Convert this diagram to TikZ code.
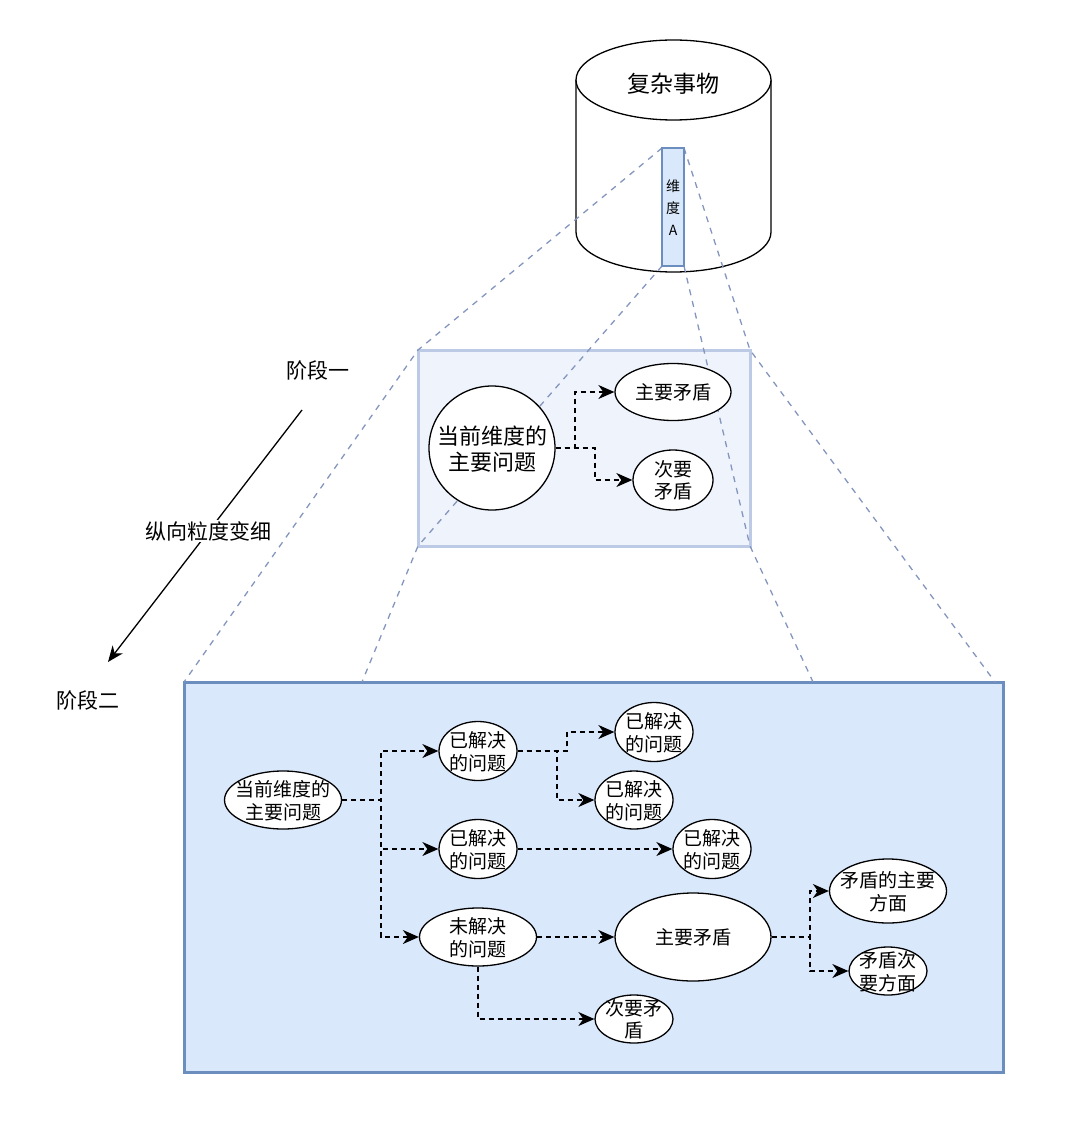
\documentclass[tikz,border=0pt]{standalone}
\usepackage{fontspec}
\setmainfont{Noto Sans CJK SC}
\usetikzlibrary{shapes.geometric}
\usetikzlibrary{arrows.meta}

\definecolor{lightblue}{HTML}{DAE8FC}
\definecolor{paleblue}{HTML}{EEF3FC}
\definecolor{frameblue}{HTML}{6C8EBF}
\definecolor{paleframe}{HTML}{BCCAE6}
\definecolor{dimgray}{HTML}{8496BE}

% text of zero size, so the ellipse keeps its given size
\newcommand{\ctext}[1]{\raisebox{-0.16em}[0pt][0pt]{\vbox to 0pt{\vss\hbox to 0pt{\hss\begin{tabular}{@{}c@{}}#1\end{tabular}\hss}\vss}}}

\tikzset{
  bubble/.style={ellipse, draw, line width=1.3pt, fill=white, inner sep=0pt, font=\fontsize{19}{22}\selectfont},
  bigbubble/.style={bubble, font=\fontsize{22}{25}\selectfont},
  flow/.style={line width=1.3pt, dash pattern=on 5pt off 4pt, -{Stealth[length=16pt,width=14pt,inset=5pt]}},
  dimline/.style={draw=dimgray, line width=1.3pt, dash pattern=on 6pt off 6pt},
  stagebox/.style={line width=3pt, inner sep=0pt, outer sep=0pt},
  barbox/.style={draw=frameblue, fill=lightblue, line width=1.2pt, minimum width=22, minimum height=118, inner sep=0pt, outer sep=0pt, font=\fontsize{14}{22}\selectfont},
  phasetext/.style={font=\fontsize{21}{25}\selectfont},
}

\begin{document}
\begin{tikzpicture}[x=1pt, y=-1pt]
    \useasboundingbox (0,0) rectangle (1080,1123);

    % cylinder
    \draw[line width=1.3pt, fill=white] (576,80) -- (576,232) arc[start angle=180, end angle=0, x radius=97.5, y radius=40] -- (771,80);
    \draw[line width=1.3pt, fill=white] (673.5,80) ellipse[x radius=97.5, y radius=40];
    \node[font=\fontsize{23}{27}\selectfont] (thing) at (673,84) {复杂事物};

    % stages
    \node[stagebox, draw=paleframe, fill=paleblue, minimum width=332, minimum height=196] (s1) at (584,448) {};
    \node[stagebox, draw=frameblue, fill=lightblue, minimum width=819, minimum height=390] (s2) at (593.5,877) {};

    \coordinate (d1) at (362,682);
    \coordinate (d2) at (813,682);
    \coordinate (d3) at (995,682);
    \node[barbox] (dimA) at (673,207) {};
    \draw[dimline] (dimA.north west) -- (s1.north west) -- (s2.north west);
    \draw[dimline] (dimA.north east) -- (s1.north east) -- (d3);
    \draw[dimline] (dimA.south west) -- (s1.south west) -- (d1);
    \draw[dimline] (dimA.south east) -- (s1.south east) -- (d2);
    \node[barbox] (dimAtext) at (dimA) {\ctext{维\\度\\A}};

    % left side
    \node[phasetext] (phase1) at (318,370) {阶段一};
    \node[phasetext] (phase2) at (88,700) {阶段二};
    \coordinate (gs) at (302,410);
    \coordinate (ge) at (108,662);
    \draw[line width=1.3pt, -{Stealth[length=16pt,width=13pt,inset=5pt]}] (gs) -- node[pos=0.48, fill=white, inner sep=1pt, phasetext] (grain) {纵向粒度变细} (ge);

    % stage one
    \node[bigbubble, minimum width=126, minimum height=124] (q1) at (492,448) {\ctext{当前维度的\\主要问题}};
    \node[bubble, minimum width=116, minimum height=57] (p1) at (673,392) {\ctext{主要矛盾}};
    \node[bubble, minimum width=80, minimum height=60] (p2) at (673,480) {\ctext{次要\\矛盾}};
    \coordinate (k1) at (575,448);
    \coordinate (k2) at (595,448);
    \draw[flow] (q1.east) -- (k1) |- (p1.west);
    \draw[flow] (q1.east) -- (k2) |- (p2.west);

    % stage two
    \node[bubble, minimum width=117, minimum height=58] (root) at (283,800) {\ctext{当前维度的\\主要问题}};
    \node[bubble, minimum width=78, minimum height=59] (a1) at (478,751) {\ctext{已解决\\的问题}};
    \node[bubble, minimum width=78, minimum height=59] (a2) at (478,849) {\ctext{已解决\\的问题}};
    \node[bubble, minimum width=117, minimum height=58] (a3) at (478,937) {\ctext{未解决\\的问题}};
    \node[bubble, minimum width=78, minimum height=59] (b1) at (654,732) {\ctext{已解决\\的问题}};
    \node[bubble, minimum width=78, minimum height=58] (b2) at (634,800) {\ctext{已解决\\的问题}};
    \node[bubble, minimum width=78, minimum height=59] (b3) at (712,849) {\ctext{已解决\\的问题}};
    \node[bubble, minimum width=156, minimum height=88] (m1) at (693,937) {\ctext{主要矛盾}};
    \node[bubble, minimum width=78, minimum height=48] (m2) at (634,1019) {\ctext{次要矛\\盾}};
    \node[bubble, minimum width=117, minimum height=64] (c1) at (888,891) {\ctext{矛盾的主要\\方面}};
    \node[bubble, minimum width=78, minimum height=48] (c2) at (888,971) {\ctext{矛盾次\\要方面}};

    \coordinate (j0) at (381,800);
    \coordinate (j1) at (567,751);
    \coordinate (j2) at (557,751);
    \coordinate (j3) at (810,937);
    \draw[flow] (root.east) -- (j0) |- (a1.west);
    \draw[flow] (root.east) -- (j0) |- (a2.west);
    \draw[flow] (root.east) -- (j0) |- (a3.west);
    \draw[flow] (a1.east) -- (j1) |- (b1.west);
    \draw[flow] (a1.east) -- (j2) |- (b2.west);
    \draw[flow] (a2.east) -- (b3.west);
    \draw[flow] (a3.east) -- (m1.west);
    \draw[flow] (a3.south) |- (m2.west);
    \draw[flow] (m1.east) -- (j3) |- (c1.west);
    \draw[flow] (m1.east) -- (j3) |- (c2.west);
\end{tikzpicture}
\end{document}
